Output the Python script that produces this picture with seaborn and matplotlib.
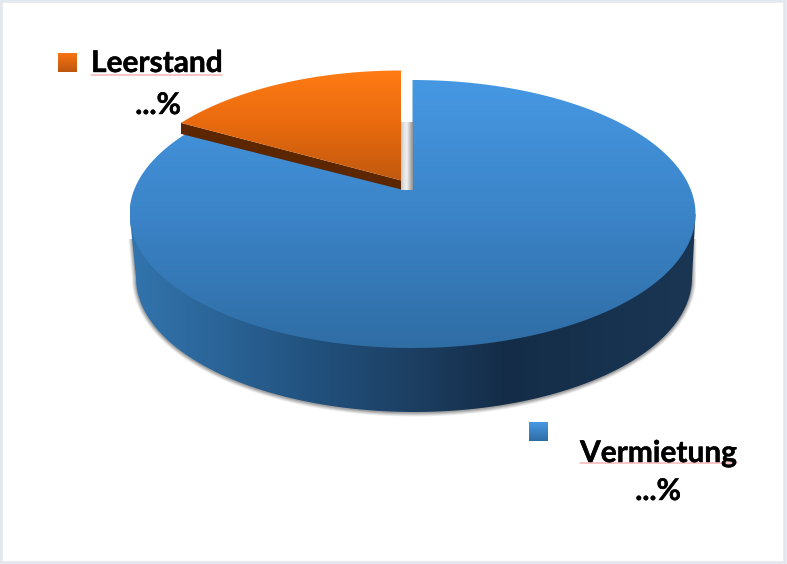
import numpy as np
import matplotlib
matplotlib.use("Agg")
import matplotlib.pyplot as plt
import matplotlib.patheffects as pe
from matplotlib.colors import ListedColormap
from matplotlib.patches import PathPatch, Rectangle
from matplotlib.path import Path
import seaborn as sns

labels = ["Vermietung", "Leerstand"]
shares = [83, 17]
value_text = ["...%", "...%"]

sns.set_theme(style="white")
plt.rcParams["font.family"] = ["Lato", "DejaVu Sans"]

# Colour ramps for the faces of the disc
blue_top = ListedColormap(sns.blend_palette(["#4698e3", "#3b84c8", "#2f6da5"], 256))
blue_side = ListedColormap(sns.blend_palette(
    ["#3274ad", "#2a6396", "#21507c", "#1c3f62", "#142c47", "#17324e", "#1a3653"], 256))
orange_top = ListedColormap(sns.blend_palette(["#ff7b14", "#e86a0e", "#c2590f"], 256))
wall_ramp = ListedColormap(sns.blend_palette(
    ["#c4c4c4", "#e4e4e4", "#f0f0f0", "#c0c0c0", "#8f8f8f"], 256))

CX, CY, RX, RY = 412.5, 214.0, 283.0, 134.0
TILT = -0.18            # perspective of the disc: pulls the centre towards the back
LOWER_CX, LOWER_CY, LOWER_RX = 414.0, 278.0, 278.0
LIFT = (-11.5, -9.5)    # offset of the pulled-out slice
SLICE_SCALE_X = 0.98


def project(theta):
    """Clockwise angle from twelve o'clock on the disc -> screen position."""
    u, v = np.sin(theta), -np.cos(theta)
    w = 1 + TILT * v
    return (CX + RX * u * np.sqrt(1 - TILT ** 2) / w,
            CY + RY * (v + TILT) / w)


APEX = np.array([CX, CY + RY * TILT])


def wedge_path(a0, a1):
    th = np.linspace(a0, a1, 240)
    x, y = project(th)
    pts = np.vstack([np.column_stack([x, y]), APEX[None, :], [[x[0], y[0]]]])
    return pts


def lifted(pts):
    out = pts.copy()
    out[:, 0] = APEX[0] + (out[:, 0] - APEX[0]) * SLICE_SCALE_X + LIFT[0]
    out[:, 1] = out[:, 1] + LIFT[1]
    return out


def gradient(ax, path, cmap, extent, horizontal=False, zorder=2):
    grid = np.linspace(0, 1, 256)
    img = grid[None, :] if horizontal else grid[:, None]
    im = ax.imshow(img, cmap=cmap, extent=extent, aspect="auto",
                   interpolation="bilinear", zorder=zorder, vmin=0, vmax=1)
    clip = PathPatch(path, transform=ax.transData, fc="none", ec="none")
    ax.add_patch(clip)
    im.set_clip_path(clip)
    return im


fig = plt.figure(figsize=(7.87, 5.64), dpi=100, facecolor="white")
ax = fig.add_axes([0, 0, 1, 1])
ax.axis("off")

ax.add_patch(Rectangle((0.5, 0.5), 784, 562, fc="white", ec="#e3e7ee", lw=2.6, zorder=0))

# Outline of the disc body: the top rim's widest points joined to the lower rim
t = np.linspace(np.pi, 0, 400)
lower_x = LOWER_CX + LOWER_RX * np.cos(t)
lower_y = LOWER_CY + RY * np.sin(t)
body = Path(np.vstack([[[CX - RX, CY]],
                       np.column_stack([lower_x, lower_y]),
                       [[CX + RX, CY]],
                       [[CX - RX, CY]]]), closed=True)

# Soft drop shadow under the body
for grow, alpha in zip([4.0, 3.0, 2.0, 1.0], [0.10, 0.14, 0.18, 0.26]):
    sx = LOWER_CX + (LOWER_RX + grow) * np.cos(t)
    sy = LOWER_CY + (RY + grow) * np.sin(t) + 0.5
    ax.fill(np.r_[CX - RX + 3 - grow, sx, CX + RX - 3 + grow], np.r_[CY + 25, sy, CY + 25],
            color="#555555", alpha=alpha, lw=0, zorder=1)

gradient(ax, body, blue_side, [CX - RX, CX + RX, 420, 200], horizontal=True)

# Angles of the two slices, both measured clockwise from twelve o'clock
split = 2 * np.pi * shares[0] / sum(shares)
end = 2 * np.pi

# Main slice
gradient(ax, Path(wedge_path(0.0, split), closed=True), blue_top,
         [CX - RX, CX + RX, CY + RY, CY - RY], zorder=3)

# Inner wall seen through the gap left by the pulled-out slice
ax.imshow(np.linspace(0, 1, 64)[None, :], cmap=wall_ramp, aspect="auto", zorder=3.5,
          extent=[CX + LIFT[0], CX, 190, 122], interpolation="bilinear")

# Pulled-out slice: dark underside first, then its top face
top_pts = lifted(wedge_path(split, end))
tip = lifted(np.array([project(split)]))[0]
ap = lifted(APEX[None, :])[0]
ax.fill([tip[0], ap[0], ap[0], tip[0]],
        [tip[1], ap[1], ap[1] + 9, tip[1] + 11],
        color="#5c2600", lw=0, zorder=4)
gradient(ax, Path(top_pts, closed=True), orange_top,
         [CX - RX, CX + RX, ap[1], CY - RY + LIFT[1]], zorder=5)

# Key squares with their labels
for (x0, y0), ramp in zip([(58, 53), (529, 422)],
                          [["#f97512", "#bd560f"], ["#4698e3", "#2f6da5"]]):
    corners = [(x0, y0), (x0 + 19, y0), (x0 + 19, y0 + 19), (x0, y0 + 19), (x0, y0)]
    gradient(ax, Path(corners, closed=True),
             ListedColormap(sns.blend_palette(ramp, 64)),
             [x0, x0 + 19, y0 + 19, y0], zorder=5)

ax.set_xlim(0, 787)
ax.set_ylim(564, 0)

bolder = [pe.withStroke(linewidth=0.3, foreground="black")]
text_kw = dict(fontsize=21.5, fontweight="bold", color="black", zorder=6,
               va="baseline", path_effects=bolder)
ax.text(91, 72, labels[1], ha="left", **text_kw)
ax.text(158, 114, value_text[1], ha="center", **text_kw)
ax.text(580, 462, labels[0], ha="left", **text_kw)
ax.text(658, 500, value_text[0], ha="center", **text_kw)

# Thin proofing underlines beneath the two names
ax.plot([91, 222], [74.5, 74.5], color="#f6b5b5", lw=1.1, zorder=5)
ax.plot([580, 737], [462.5, 462.5], color="#f6b5b5", lw=1.1, zorder=5)

fig.savefig("out.png", dpi=100, facecolor="white")
